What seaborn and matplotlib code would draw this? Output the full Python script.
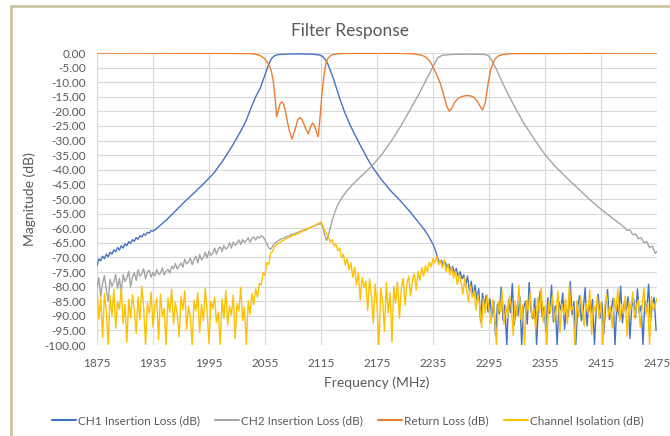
import numpy as np
import pandas as pd
import matplotlib
matplotlib.use("Agg")
import matplotlib.pyplot as plt
import seaborn as sns
from matplotlib.patches import Rectangle
from matplotlib.lines import Line2D

# ---- data (MHz / dB) ----
series_names = ["CH1 Insertion Loss (dB)", "CH2 Insertion Loss (dB)",
                "Return Loss (dB)", "Channel Isolation (dB)"]
series_colors = ["#4472C4", "#A5A5A5", "#ED7D31", "#FFC000"]

x_ticks = list(range(1875, 2476, 60))
y_ticks = list(range(-100, 1, 5))

# CH1: noisy low end (2 MHz steps from 1875), smooth skirt, noisy high end (2 MHz steps from 2240)
ch1_lo_db = [-72.8, -70.5, -71.2, -69.6, -70.4, -68.9, -69.8, -68.2, -68.9, -67.4,
             -68.1, -66.6, -67.5, -66.0, -66.8, -65.3, -66.0, -64.6, -65.2, -63.9,
             -64.5, -63.2, -63.8, -62.6, -63.0, -62.0, -62.4, -61.4, -61.7, -60.8, -61.0]
ch1_mid_freq = [1940, 1950, 1960, 1970, 1980, 1990, 2000, 2010, 2020, 2030, 2035, 2040,
                2045, 2050, 2053, 2056, 2059, 2062, 2065, 2068, 2075, 2090, 2105, 2112,
                2116, 2119, 2122, 2125, 2128, 2131, 2135, 2140, 2145, 2150, 2155, 2160,
                2165, 2170, 2180, 2190, 2200, 2210, 2220, 2225, 2230, 2235, 2238]
ch1_mid_db = [-59.8, -57.0, -53.8, -50.6, -47.6, -44.5, -41.2, -36.8, -31.8, -26.2, -23.0, -18.8,
              -15.0, -12.0, -9.3, -6.5, -3.8, -1.9, -1.0, -0.6, -0.4, -0.3, -0.4, -0.6,
              -1.0, -2.0, -3.5, -6.0, -8.5, -11.5, -15.5, -20.0, -23.8, -27.2, -30.3, -33.3,
              -36.3, -39.0, -43.5, -47.3, -50.6, -54.2, -58.2, -60.2, -62.6, -65.5, -68.0]
ch1_hi_db = [-70.2, -71.8, -71.0, -72.5, -71.6, -73.4, -72.3, -74.6, -73.1, -75.2,
             -73.8, -76.5, -74.9, -77.3, -76.0, -79.8, -76.4, -81.5, -78.2, -83.0,
             -79.5, -84.6, -80.7, -92.0, -82.3, -86.5, -83.0, -88.7, -84.2, -90.5,
             -85.0, -97.0, -86.1, -89.4, -80.2, -91.5, -86.3, -100.0, -84.5, -88.9,
             -79.0, -93.2, -86.7, -89.9, -83.4, -100.0, -87.5, -85.0, -92.8, -78.6,
             -88.4, -91.0, -84.1, -100.0, -86.2, -81.5, -90.3, -87.0, -95.4, -83.8,
             -89.2, -79.5, -92.1, -86.6, -100.0, -85.3, -88.0, -82.2, -94.6, -87.4,
             -90.1, -78.3, -89.6, -85.2, -100.0, -86.9, -83.1, -91.7, -87.8, -80.4,
             -93.5, -86.0, -89.3, -84.4, -100.0, -87.1, -82.6, -90.8, -85.5, -96.2,
             -86.4, -81.0, -91.3, -87.9, -84.0, -100.0, -86.1, -89.7, -79.9, -92.4,
             -85.6, -88.2, -83.5, -97.8, -86.8, -84.2, -90.6, -80.8, -89.0, -86.5,
             -100.0, -84.9, -88.5, -79.2, -91.9, -86.0, -83.7, -95.0]

# CH2: noisy low end (2 MHz steps from 1875), then smooth passband and skirt
ch2_lo_db = [-80.5, -77.0, -83.5, -78.8, -76.2, -81.3, -85.0, -77.5, -79.9, -78.4,
             -75.8, -80.6, -77.1, -82.0, -75.9, -78.3, -77.0, -74.8, -80.2, -76.6,
             -75.3, -77.9, -74.2, -76.4, -75.6, -73.9, -77.3, -75.0, -74.4, -76.8,
             -75.1, -76.3, -74.2, -75.8, -75.4, -73.6, -76.0, -74.8, -74.1, -75.3,
             -73.0, -73.9, -72.1, -74.0, -72.8, -71.9, -73.4, -70.6, -72.2, -71.5,
             -70.3, -72.5, -70.8, -69.6, -71.9, -69.0, -70.9, -69.9, -68.3, -70.2,
             -67.9, -69.3, -68.6, -66.8, -68.9, -67.0, -66.4, -68.0, -65.9, -67.2,
             -66.6, -65.0, -66.8, -64.7, -65.9, -65.1, -64.0, -65.6, -63.9, -64.9,
             -64.2, -63.3, -64.8, -63.5, -63.0, -64.1, -62.9, -63.4, -62.6, -63.0,
             -64.0, -65.4, -66.7, -67.3, -66.2, -65.3, -64.8, -64.3, -63.9, -63.6,
             -63.4, -63.0, -62.8, -62.6, -62.2, -62.0, -61.8, -61.6, -61.3, -61.1,
             -60.8, -60.6, -60.3, -60.1, -59.8, -59.6, -59.3, -59.0, -58.8, -58.6]
ch2_hi_freq = [2115, 2117, 2119, 2121, 2123, 2125, 2127, 2130, 2133, 2137, 2142, 2148,
               2155, 2162, 2170, 2180, 2190, 2200, 2210, 2220, 2228, 2235, 2240, 2245,
               2255, 2275, 2290, 2294, 2297, 2300, 2303, 2306, 2310, 2315, 2321, 2327,
               2332, 2340, 2348, 2356, 2365, 2374, 2382, 2392, 2403, 2415, 2425, 2435,
               2440, 2443, 2446, 2449, 2452, 2455, 2458, 2461, 2464, 2467, 2470, 2473, 2475]
ch2_hi_db = [-58.5, -59.6, -62.4, -64.2, -62.3, -59.8, -57.2, -54.3, -52.0, -49.8, -47.5, -45.3,
             -43.1, -41.0, -38.5, -34.8, -30.3, -25.3, -19.7, -14.0, -9.0, -4.7, -1.6, -0.8,
             -0.5, -0.4, -0.5, -0.9, -2.0, -3.8, -5.6, -7.7, -10.6, -13.8, -17.5, -21.0,
             -23.9, -27.8, -31.6, -35.2, -38.5, -41.4, -43.9, -46.9, -50.2, -53.5, -56.0, -58.4,
             -59.7, -60.8, -60.6, -62.2, -62.0, -63.6, -63.2, -65.0, -64.6, -66.6, -66.1, -68.6, -67.9]

# Return loss
rl_freq = [1875, 2000, 2030, 2040, 2045, 2050, 2054, 2057, 2060, 2062, 2064, 2066,
           2067.5, 2069, 2071, 2073, 2075, 2077, 2079, 2081, 2084, 2087, 2090, 2092.5,
           2095, 2098, 2101.5, 2104, 2106, 2108, 2110, 2112, 2114, 2116, 2118, 2120,
           2122, 2125, 2128, 2135, 2150, 2200, 2215, 2222, 2227, 2231, 2235, 2239,
           2243, 2247, 2250, 2252.5, 2255, 2258, 2262, 2266, 2270, 2274, 2278, 2282,
           2285, 2288, 2291, 2294, 2297, 2301, 2305, 2310, 2320, 2400, 2475]
rl_db = [-0.05, -0.1, -0.15, -0.2, -0.4, -0.9, -1.8, -3.0, -4.5, -6.5, -10.0, -16.0,
         -21.8, -20.0, -17.5, -16.7, -17.5, -20.0, -23.5, -26.5, -29.5, -26.5, -23.0, -22.0,
         -23.0, -25.5, -27.7, -25.2, -24.0, -24.8, -27.0, -28.7, -22.0, -14.0, -8.0, -4.0,
         -2.0, -1.0, -0.5, -0.2, -0.1, -0.1, -0.3, -0.7, -1.3, -2.5, -4.7, -7.5,
         -10.5, -15.0, -18.5, -19.9, -19.0, -17.0, -15.5, -14.9, -14.6, -14.6, -15.0, -16.3,
         -18.0, -19.5, -17.0, -10.5, -5.5, -2.2, -1.0, -0.5, -0.2, -0.1, -0.05]

# Channel isolation, 2 MHz steps from 1875
iso_db = [-80.5, -91.2, -84.0, -97.5, -82.3, -88.6, -100.0, -83.1, -89.9, -81.0,
          -94.3, -85.2, -87.8, -80.4, -92.6, -86.0, -99.1, -84.4, -90.7, -82.8,
          -88.1, -96.0, -83.5, -91.4, -79.8, -87.2, -100.0, -85.6, -89.3, -81.9,
          -93.8, -86.4, -84.1, -98.3, -82.6, -90.2, -87.5, -100.0, -83.9, -88.8,
          -80.9, -92.9, -85.4, -89.6, -97.2, -83.3, -87.9, -81.5, -94.6, -86.8,
          -90.4, -100.0, -84.7, -88.3, -82.1, -95.7, -86.1, -91.8, -80.6, -89.1,
          -99.4, -85.0, -87.6, -83.7, -92.3, -88.9, -100.0, -84.2, -90.9, -81.3,
          -93.1, -86.7, -89.8, -82.9, -97.9, -85.8, -88.4, -80.2, -91.6, -87.0,
          -100.0, -84.9, -89.5, -82.4, -86.2, -80.8, -83.6, -78.9, -79.4, -75.2,
          -76.1, -71.8, -72.4, -68.6, -68.1, -66.3, -65.9, -65.2, -64.9, -64.4,
          -64.2, -63.6, -63.5, -63.0, -62.9, -62.3, -62.4, -61.8, -61.9, -61.3,
          -61.2, -60.6, -60.7, -60.1, -59.9, -59.5, -59.4, -58.9, -58.6, -58.3,
          -57.9, -59.2, -60.8, -62.0, -62.9, -64.8, -63.9, -66.1, -65.4, -67.7,
          -66.8, -70.2, -68.9, -72.6, -70.5, -74.3, -71.9, -76.8, -73.4, -79.5,
          -75.2, -84.6, -76.9, -80.3, -78.1, -88.2, -77.4, -83.0, -92.5, -79.1,
          -86.4, -100.0, -80.5, -84.8, -95.3, -78.6, -89.0, -82.2, -99.0, -80.0,
          -85.7, -78.4, -90.8, -80.9, -77.2, -86.3, -79.0, -76.5, -83.1, -77.8,
          -75.6, -81.2, -74.8, -77.9, -73.5, -76.4, -72.8, -74.9, -71.6, -73.2,
          -70.4, -71.9, -69.6, -72.5, -71.0, -73.6, -70.8, -74.9, -72.2, -76.0,
          -73.4, -77.1, -74.6, -79.3, -75.8, -78.4, -82.6, -77.0, -80.9, -85.2,
          -79.5, -83.8, -81.2, -88.1, -82.6, -86.4, -94.0, -84.1, -89.2, -82.8,
          -87.9, -92.6, -84.5, -89.7, -100.0, -85.3, -88.6, -81.4, -93.0, -86.9,
          -90.4, -83.2, -87.5, -96.8, -85.0, -89.9, -79.6, -91.1, -86.3, -100.0,
          -84.7, -88.2, -82.1, -90.6, -87.3, -94.9, -83.8, -89.0, -80.3, -92.2,
          -86.5, -100.0, -85.1, -88.9, -83.0, -91.7, -87.8, -81.5, -95.6, -86.0,
          -89.6, -84.3, -92.8, -79.4, -88.1, -86.7, -100.0, -84.9, -90.3, -83.6,
          -87.4, -93.5, -85.8, -89.1, -81.0, -96.4, -86.2, -88.7, -83.4, -91.0,
          -85.5, -100.0, -87.0, -82.7, -90.1, -86.8, -94.2, -84.0, -88.5, -80.7,
          -92.0, -86.1, -89.4, -83.3, -97.1, -85.2, -87.9, -81.8, -90.8, -86.4,
          -84.6, -93.9, -86.9, -80.5, -89.5, -85.7, -100.0, -83.5, -88.0, -86.2,
          -84.0]


def montar_df():
    step = lambda start, vals: list(start + 2 * np.arange(len(vals)))
    partes = [
        (step(1875, ch1_lo_db) + ch1_mid_freq + step(2240, ch1_hi_db),
         ch1_lo_db + ch1_mid_db + ch1_hi_db, series_names[0]),
        (step(1875, ch2_lo_db) + ch2_hi_freq, ch2_lo_db + ch2_hi_db, series_names[1]),
        (rl_freq, rl_db, series_names[2]),
        (step(1875, iso_db), iso_db, series_names[3]),
    ]
    frames = [pd.DataFrame({"freq": f, "db": d, "serie": n}) for f, d, n in partes]
    return pd.concat(frames, ignore_index=True)


def desenhar(df):
    sns.set_style("white")
    plt.rcParams["font.family"] = ["Lato", "DejaVu Sans"]
    txt = "#595959"

    fig = plt.figure(figsize=(6.7, 4.36), dpi=100)
    ax = fig.add_axes([97 / 670, 91 / 436, 560 / 670, 292 / 436])

    sns.lineplot(data=df, x="freq", y="db", hue="serie", hue_order=series_names,
                 palette=series_colors, estimator=None, linewidth=1.0,
                 legend=False, ax=ax)

    ax.set_xlim(1875, 2475)
    ax.set_ylim(-100, 0)
    ax.set_xticks(x_ticks)
    ax.set_yticks(y_ticks)
    ax.set_yticklabels([f"{v:.2f}" for v in y_ticks])
    ax.tick_params(length=0, labelsize=8.5, colors=txt)
    ax.tick_params(axis="x", pad=9)
    ax.tick_params(axis="y", pad=8)
    ax.grid(True, color="#d9d9d9", linewidth=0.8)
    ax.set_axisbelow(True)
    for s in ax.spines.values():
        s.set_visible(False)

    ax.set_xlabel("Frequency (MHz)", fontsize=10, color=txt, labelpad=6)
    ax.set_ylabel("Magnitude (dB)", fontsize=10, color=txt, labelpad=6)
    fig.text(350 / 670, 1 - 31 / 436, "Filter Response", ha="center", va="center",
             fontsize=12.5, color=txt)

    handles = [Line2D([0], [0], color=c, linewidth=1.5) for c in series_colors]
    fig.legend(handles, series_names, loc="center", bbox_to_anchor=(348 / 670, 15 / 436),
               ncol=4, frameon=False, fontsize=8.5, handlelength=2.0,
               handletextpad=0.2, columnspacing=1.3, labelcolor=txt)

    # chart-area border (left and top edges visible in the crop)
    fig.patches.append(Rectangle((10.5 / 670, -0.2), 2.0, 1.2 - 5.5 / 436,
                                 transform=fig.transFigure, fill=False,
                                 edgecolor="#cbc6a2", linewidth=2.0))
    fig.savefig("out.png", dpi=100)


def main():
    df = montar_df()
    desenhar(df)


if __name__ == "__main__":
    main()
